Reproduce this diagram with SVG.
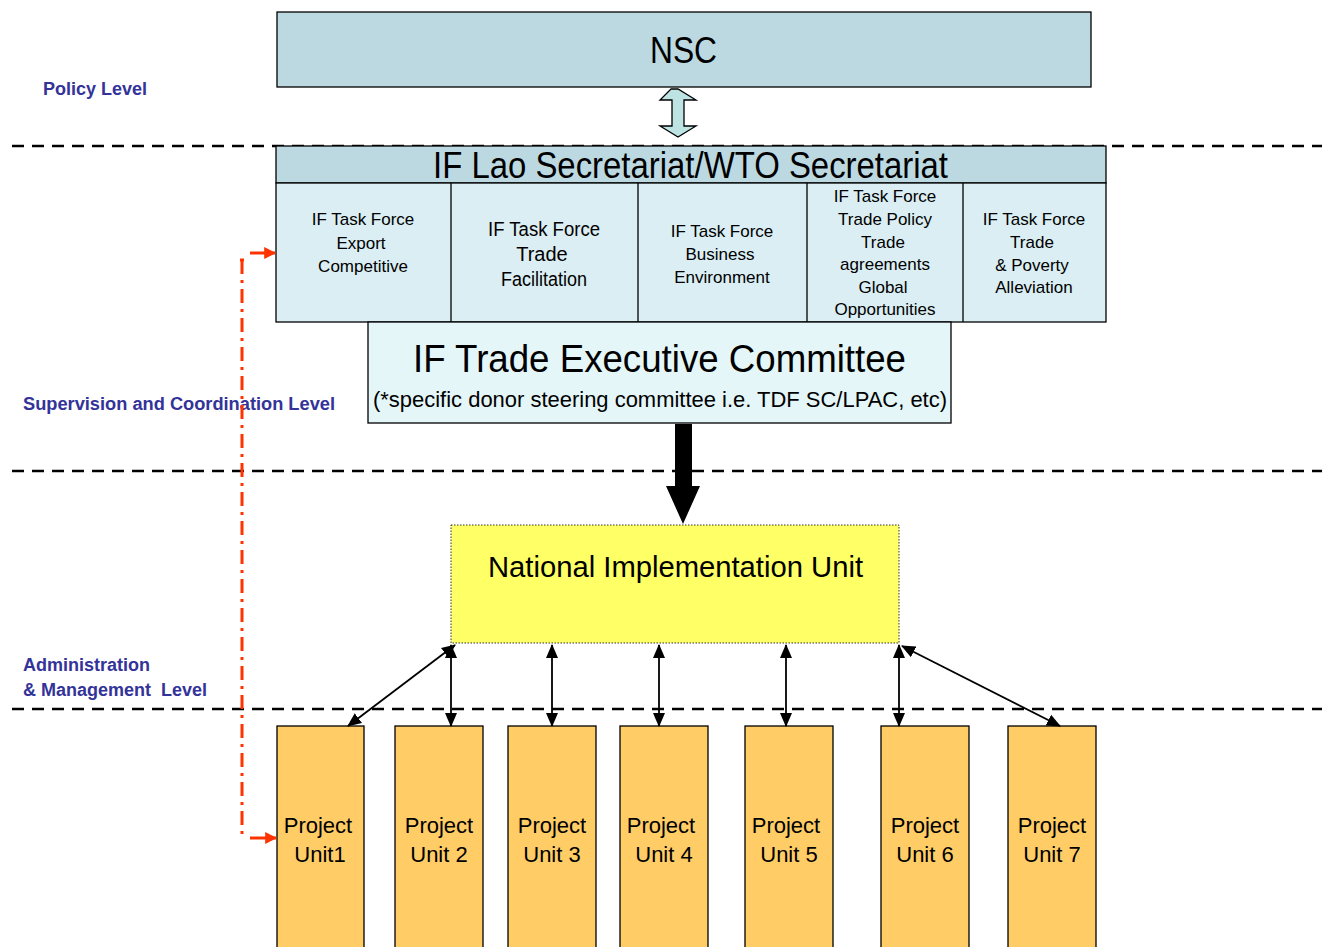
<svg xmlns="http://www.w3.org/2000/svg" width="1322" height="947" viewBox="0 0 1322 947">
<defs>
<style>
text{font-family:"Liberation Sans",Arial,sans-serif;fill:#000}
.lvl{font-size:18px;font-weight:bold;fill:#333399}
.tf{font-size:17px;text-anchor:middle}
.tf2{font-size:20px;text-anchor:middle}
.pu{font-size:22px;text-anchor:middle}
.dash{stroke:#000;stroke-width:2.5;stroke-dasharray:12 8;fill:none}
.box{stroke:#000;stroke-width:1.3}
.con{stroke:#000;stroke-width:1.8;fill:none;marker-start:url(#ah);marker-end:url(#ah)}
</style>
<marker id="ah" viewBox="0 0 14 14" refX="13" refY="7" markerWidth="14" markerHeight="14" orient="auto-start-reverse" markerUnits="userSpaceOnUse">
<path d="M0,1 L14,7 L0,13 z" fill="#000"/>
</marker>
<marker id="rh" viewBox="0 0 10 10" refX="9" refY="5" markerWidth="4" markerHeight="4" orient="auto">
<path d="M0,0 L10,5 L0,10 z" fill="#ff3300"/>
</marker>
</defs>
<rect width="1322" height="947" fill="#fff"/>

<g id="levels">
<line class="dash" x1="12" y1="146" x2="1322" y2="146"/>
<line class="dash" x1="12" y1="471" x2="1322" y2="471"/>
<line class="dash" x1="12" y1="709" x2="1322" y2="709"/>
<text class="lvl" x="43" y="95">Policy Level</text>
<text class="lvl" x="23" y="410" textLength="312" lengthAdjust="spacingAndGlyphs">Supervision and Coordination Level</text>
<text class="lvl" x="23" y="671">Administration</text>
<text class="lvl" x="23" y="696" xml:space="preserve">&amp; Management  Level</text>
</g>

<g id="nsc">
<rect class="box" x="277" y="12" width="814" height="75" fill="#bcd9e2"/>
<text x="650" y="63" font-size="36" textLength="67" lengthAdjust="spacingAndGlyphs">NSC</text>
</g>

<g id="secretariat">
<rect class="box" x="276" y="146" width="830" height="37" fill="#bcd9e2"/>
<text x="433" y="178" font-size="36" textLength="515" lengthAdjust="spacingAndGlyphs">IF Lao Secretariat/WTO Secretariat</text>
</g>

<g id="taskforces">
<rect class="box" x="276" y="183" width="830" height="139" fill="#daeef3"/>
<line class="box" x1="451" y1="183" x2="451" y2="322"/>
<line class="box" x1="638" y1="183" x2="638" y2="322"/>
<line class="box" x1="807" y1="183" x2="807" y2="322"/>
<line class="box" x1="963" y1="183" x2="963" y2="322"/>
<g id="tf1">
<text class="tf" x="363" y="225">IF Task Force</text>
<text class="tf" x="361" y="249">Export</text>
<text class="tf" x="363" y="272">Competitive</text>
</g>
<g id="tf2">
<text class="tf2" x="544" y="236" textLength="112" lengthAdjust="spacingAndGlyphs">IF Task Force</text>
<text class="tf2" x="542" y="261">Trade</text>
<text class="tf2" x="544" y="286" textLength="86" lengthAdjust="spacingAndGlyphs">Facilitation</text>
</g>
<g id="tf3">
<text class="tf" x="722" y="237">IF Task Force</text>
<text class="tf" x="720" y="260">Business</text>
<text class="tf" x="722" y="283">Environment</text>
</g>
<g id="tf4">
<text class="tf" x="885" y="202">IF Task Force</text>
<text class="tf" x="885" y="225">Trade Policy</text>
<text class="tf" x="883" y="248">Trade</text>
<text class="tf" x="885" y="270">agreements</text>
<text class="tf" x="883" y="293">Global</text>
<text class="tf" x="885" y="315">Opportunities</text>
</g>
<g id="tf5">
<text class="tf" x="1034" y="225">IF Task Force</text>
<text class="tf" x="1032" y="248">Trade</text>
<text class="tf" x="1032" y="271">&amp; Poverty</text>
<text class="tf" x="1034" y="293">Alleviation</text>
</g>
</g>

<g id="exec">
<rect class="box" x="368" y="322" width="583" height="101" fill="#e4f6f8"/>
<text x="413" y="372" font-size="38" textLength="493" lengthAdjust="spacingAndGlyphs">IF Trade Executive Committee</text>
<text x="373" y="407" font-size="22" textLength="574" lengthAdjust="spacingAndGlyphs">(*specific donor steering committee i.e. TDF SC/LPAC, etc)</text>
</g>

<g id="niu">
<rect x="451" y="525" width="448" height="118" fill="#ffff66" stroke="#333" stroke-width="1" stroke-dasharray="1.5 1.5"/>
<text x="488" y="577" font-size="30" textLength="375" lengthAdjust="spacingAndGlyphs">National Implementation Unit</text>
</g>

<g id="projects">
<g id="pu1"><rect class="box" x="277" y="726" width="87" height="230" fill="#ffcc66"/><text class="pu" x="318" y="833">Project</text><text class="pu" x="320" y="862">Unit1</text></g>
<g id="pu2"><rect class="box" x="395" y="726" width="88" height="230" fill="#ffcc66"/><text class="pu" x="439" y="833">Project</text><text class="pu" x="439" y="862">Unit 2</text></g>
<g id="pu3"><rect class="box" x="508" y="726" width="88" height="230" fill="#ffcc66"/><text class="pu" x="552" y="833">Project</text><text class="pu" x="552" y="862">Unit 3</text></g>
<g id="pu4"><rect class="box" x="620" y="726" width="88" height="230" fill="#ffcc66"/><text class="pu" x="661" y="833">Project</text><text class="pu" x="664" y="862">Unit 4</text></g>
<g id="pu5"><rect class="box" x="745" y="726" width="88" height="230" fill="#ffcc66"/><text class="pu" x="786" y="833">Project</text><text class="pu" x="789" y="862">Unit 5</text></g>
<g id="pu6"><rect class="box" x="881" y="726" width="88" height="230" fill="#ffcc66"/><text class="pu" x="925" y="833">Project</text><text class="pu" x="925" y="862">Unit 6</text></g>
<g id="pu7"><rect class="box" x="1008" y="726" width="88" height="230" fill="#ffcc66"/><text class="pu" x="1052" y="833">Project</text><text class="pu" x="1052" y="862">Unit 7</text></g>
</g>

<g id="connectors">
<path d="M671,89 L660,100 L672,100 L672,126 L660,126 L678,137 L696,126 L684,126 L684,100 L696,100 L678,89 Z" fill="#bde3e3" stroke="#000" stroke-width="1.3"/>
<path d="M675,424 L692,424 L692,486 L700,486 L683,524 L666,486 L675,486 Z" fill="#000"/>
<line class="con" x1="455" y1="645" x2="348" y2="726"/>
<line class="con" x1="451" y1="645" x2="451" y2="726"/>
<line class="con" x1="552" y1="645" x2="552" y2="726"/>
<line class="con" x1="659" y1="645" x2="659" y2="726"/>
<line class="con" x1="786" y1="645" x2="786" y2="726"/>
<line class="con" x1="899" y1="645" x2="899" y2="726"/>
<line class="con" x1="902" y1="646" x2="1060" y2="726"/>
<path d="M242,260 L242,838" stroke="#ff3300" stroke-width="3" stroke-dasharray="14 6 3 6" fill="none"/>
<line x1="240" y1="260" x2="244" y2="260" stroke="#ff3300" stroke-width="3"/>
<line x1="250" y1="253" x2="275" y2="253" stroke="#ff3300" stroke-width="3" marker-end="url(#rh)"/>
<line x1="250" y1="838" x2="276" y2="838" stroke="#ff3300" stroke-width="3" marker-end="url(#rh)"/>
</g>
</svg>
